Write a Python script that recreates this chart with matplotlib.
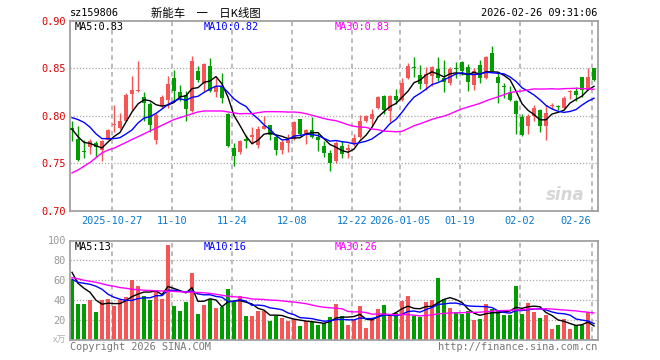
import numpy as np
import pandas as pd
import matplotlib
matplotlib.use('Agg')
import matplotlib.pyplot as plt
from matplotlib.transforms import blended_transform_factory

# daily candles (88 trading days)
opens = [0.787, 0.776, 0.763, 0.767, 0.771, 0.764, 0.775, 0.790, 0.7875, 0.795,
         0.823, 0.826, 0.820, 0.812, 0.775, 0.810, 0.817, 0.840, 0.825, 0.822,
         0.805, 0.847, 0.833, 0.8526, 0.825, 0.830, 0.8014, 0.766, 0.762, 0.775,
         0.778, 0.769, 0.786, 0.790, 0.778, 0.764, 0.7714, 0.776, 0.797, 0.781,
         0.785, 0.778, 0.768, 0.7606, 0.752, 0.768, 0.7638, 0.770, 0.778, 0.795,
         0.797, 0.808, 0.8206, 0.805, 0.8206, 0.817, 0.840, 0.8516, 0.843, 0.833,
         0.8415, 0.8495, 0.840, 0.834, 0.850, 0.8564, 0.851, 0.832, 0.8537, 0.840,
         0.866, 0.841, 0.8305, 0.824, 0.816, 0.7986, 0.789, 0.7997, 0.8056, 0.789,
         0.8098, 0.8093, 0.8084, 0.8247, 0.8258, 0.8408, 0.8275, 0.850]
highs = [0.795, 0.789, 0.775, 0.776, 0.773, 0.775, 0.786, 0.811, 0.803, 0.824,
         0.842, 0.857, 0.825, 0.814, 0.803, 0.822, 0.842, 0.848, 0.832, 0.826,
         0.863, 0.852, 0.855, 0.861, 0.840, 0.845, 0.803, 0.771, 0.775, 0.780,
         0.788, 0.789, 0.800, 0.790, 0.7805, 0.775, 0.7805, 0.794, 0.797, 0.786,
         0.7986, 0.782, 0.774, 0.764, 0.7735, 0.773, 0.7707, 0.781, 0.801, 0.801,
         0.8066, 0.8206, 0.8216, 0.8223, 0.828, 0.8397, 0.855, 0.8617, 0.853, 0.851,
         0.852, 0.8617, 0.859, 0.851, 0.8564, 0.8578, 0.854, 0.850, 0.859, 0.8624,
         0.8728, 0.845, 0.8345, 0.831, 0.817, 0.8014, 0.8014, 0.8118, 0.8066, 0.8118,
         0.8136, 0.8111, 0.8206, 0.8275, 0.830, 0.8408, 0.850, 0.850]
lows = [0.774, 0.752, 0.756, 0.760, 0.757, 0.752, 0.775, 0.783, 0.786, 0.794,
        0.806, 0.825, 0.795, 0.783, 0.770, 0.808, 0.808, 0.815, 0.815, 0.794,
        0.804, 0.8355, 0.826, 0.825, 0.8195, 0.8136, 0.767, 0.747, 0.760, 0.766,
        0.770, 0.766, 0.786, 0.775, 0.759, 0.7596, 0.762, 0.775, 0.779, 0.770,
        0.777, 0.763, 0.757, 0.7415, 0.750, 0.756, 0.7554, 0.768, 0.777, 0.7934,
        0.789, 0.8066, 0.8014, 0.7937, 0.812, 0.816, 0.839, 0.8404, 0.828, 0.8275,
        0.831, 0.836, 0.825, 0.8328, 0.8397, 0.843, 0.8265, 0.8275, 0.8345, 0.839,
        0.8467, 0.8136, 0.8188, 0.8153, 0.781, 0.7787, 0.781, 0.7944, 0.783, 0.7742,
        0.8073, 0.8056, 0.8066, 0.8171, 0.816, 0.8195, 0.827, 0.837]
closes = [0.785, 0.754, 0.762, 0.774, 0.767, 0.774, 0.785, 0.791, 0.795, 0.822,
          0.827, 0.827, 0.813, 0.790, 0.801, 0.8195, 0.833, 0.826, 0.8195, 0.807,
          0.857, 0.838, 0.854, 0.8265, 0.830, 0.819, 0.768, 0.758, 0.7735, 0.774,
          0.780, 0.786, 0.7895, 0.780, 0.764, 0.7725, 0.7742, 0.793, 0.7805, 0.785,
          0.778, 0.775, 0.761, 0.750, 0.771, 0.760, 0.7666, 0.777, 0.794, 0.800,
          0.802, 0.820, 0.8056, 0.8206, 0.8164, 0.8345, 0.852, 0.8502, 0.8334, 0.844,
          0.851, 0.840, 0.8355, 0.8495, 0.8492, 0.8467, 0.8355, 0.8474, 0.8397, 0.8613,
          0.8467, 0.834, 0.830, 0.817, 0.802, 0.780, 0.7997, 0.8077, 0.789, 0.8024,
          0.8101, 0.8088, 0.8188, 0.8265, 0.8216, 0.8275, 0.8408, 0.838]
# volume in 万
volumes = [60, 36, 36, 40, 28, 40, 41, 34, 40, 43,
           60, 54, 44, 40, 49, 41, 95, 34, 29, 38,
           67, 26, 35, 41, 32, 33, 51, 38, 44, 24,
           24, 29, 29, 19, 24, 22, 19, 21, 14, 19,
           19, 15, 17, 23, 36, 24, 15, 20, 34, 12,
           20, 31, 35, 25, 27, 39, 44, 24, 23, 38,
           40, 62, 41, 32, 28, 26, 29, 20, 21, 36,
           31, 29, 25, 25, 54, 26, 37, 28, 22, 25,
           11, 15, 21, 11, 15, 15, 28, 1.5]

# moving-average values at the start of the window (history not shown)
ma5_head = [0.786, 0.778, 0.772, 0.771]
ma10_head = [0.798, 0.796, 0.793, 0.788, 0.781, 0.776, 0.776, 0.776, 0.777]
ma30_head = [0.740, 0.743, 0.747, 0.751, 0.756, 0.761, 0.764, 0.766, 0.769, 0.772,
             0.775, 0.778, 0.781, 0.784, 0.787, 0.790, 0.793, 0.796, 0.798, 0.800,
             0.802, 0.804, 0.805, 0.805, 0.805, 0.805, 0.804, 0.803, 0.802]
vma5_head = [68, 57, 52, 48]
vma10_head = [61, 58, 57, 56, 54, 51, 46, 43, 41]
vma30_head = [62.7, 61.5, 60, 59, 58, 56.5, 55, 54, 52.7, 52,
              51, 50.5, 50, 49.8, 49.5, 49.2, 49, 48.8, 48.5, 48.2,
              48, 47.8, 47.5, 46.8, 46, 45, 44, 43.5, 43]

date_labels = ['2025-10-27', '11-10', '11-24', '12-08', '12-22',
               '2026-01-05', '01-19', '02-02', '02-26']
date_index = [7, 17, 27, 37, 47, 55, 65, 75, 87]


def moving_avg(vals, n, head):
    m = pd.Series(vals, dtype=float).rolling(n).mean().to_numpy()
    m[:len(head)] = head
    return m


RED = '#f65555'
GREEN = '#009c00'
MONO = 'DejaVu Sans Mono'
GRIDC = '#aaaaaa'

o = np.array(opens); h = np.array(highs); l = np.array(lows); c = np.array(closes)
v = np.array(volumes, dtype=float)
x = np.arange(len(c))
up = c >= o
colors = np.where(up, RED, GREEN)

fig = plt.figure(figsize=(6.6, 3.6), dpi=100)
W, H = 660.0, 360.0
fx = lambda px: px / W
fy = lambda py: 1 - py / H

ax = fig.add_axes([fx(70), fy(211), fx(597.6) - fx(70), fy(20.5) - fy(211)])
axv = fig.add_axes([fx(70), fy(340), fx(597.6) - fx(70), fy(240.5) - fy(340)])

xlim = (-1 / 3, 87.6)
for a in (ax, axv):
    a.set_xlim(*xlim)
    a.set_xticks([])
    for s in a.spines.values():
        s.set_color('#a0a0a0')
        s.set_linewidth(1.3)
    a.tick_params(axis='y', length=0, pad=3)
    for d in date_index:
        a.axvline(d - 1 / 3, color=GRIDC, lw=1.1, linestyle=(0, (3, 2.5)), zorder=0)

# price panel
ax.set_ylim(0.70, 0.90)
ax.set_yticks([0.70, 0.75, 0.80, 0.85, 0.90])
ax.set_yticklabels(['%.2f' % t for t in [0.70, 0.75, 0.80, 0.85, 0.90]],
                   family=MONO, fontsize=7.4, color='#dd0000')
for yv in [0.75, 0.80, 0.85]:
    ax.axhline(yv, color=GRIDC, lw=0.9, linestyle=(0, (1, 1.5)), zorder=0)

ax.vlines(x, l, h, colors=colors, lw=1, zorder=2)
body = np.maximum(np.abs(c - o), 0.0012)
ax.bar(x, body, bottom=np.minimum(o, c), width=0.8, color=colors, zorder=3)

ax.plot(x, moving_avg(closes, 5, ma5_head), color='black', lw=1, zorder=4)
ax.plot(x, moving_avg(closes, 10, ma10_head), color='#0000ff', lw=1, zorder=4)
ax.plot(x, moving_avg(closes, 30, ma30_head), color='#ff00ff', lw=1, zorder=4)

ax.text(0.008, 0.993, 'MA5:0.83', transform=ax.transAxes, family=MONO, fontsize=7.4,
        color='black', va='top')
ax.text(0.254, 0.993, 'MA10:0.82', transform=ax.transAxes, family=MONO, fontsize=7.4,
        color='#0000ff', va='top')
ax.text(0.502, 0.993, 'MA30:0.83', transform=ax.transAxes, family=MONO, fontsize=7.4,
        color='#ff00ff', va='top')

tr = blended_transform_factory(ax.transData, ax.transAxes)
for lab, d in zip(date_labels, date_index):
    if d == date_index[-1]:
        ax.text(d - 1 / 3 - 0.2, -0.051, lab, transform=tr, ha='right', va='center',
                family=MONO, fontsize=7.4, color='#0a78d0')
    else:
        ax.text(d - 1 / 3, -0.051, lab, transform=tr, ha='center', va='center',
                family=MONO, fontsize=7.4, color='#0a78d0')

ax.text(0.976, 0.085, 'sina', transform=ax.transAxes, ha='right', va='center',
        fontsize=12, fontweight='bold', style='italic', color='#d6d6d6', zorder=1)

# volume panel
axv.set_ylim(0, 100)
axv.set_yticks([20, 40, 60, 80, 100])
axv.set_yticklabels(['20', '40', '60', '80', '100'], family=MONO, fontsize=7.4,
                    color='#999999')
for yv in [20, 40, 60, 80]:
    axv.axhline(yv, color=GRIDC, lw=0.9, linestyle=(0, (1, 1.5)), zorder=0)
axv.bar(x, v, width=0.8, color=colors, zorder=2)
axv.plot(x, moving_avg(volumes, 5, vma5_head), color='black', lw=1, zorder=4)
axv.plot(x, moving_avg(volumes, 10, vma10_head), color='#0000ff', lw=1, zorder=4)
axv.plot(x, moving_avg(volumes, 30, vma30_head), color='#ff00ff', lw=1, zorder=4)

axv.text(0.008, 0.985, 'MA5:13', transform=axv.transAxes, family=MONO, fontsize=7.4,
         color='black', va='top')
axv.text(0.254, 0.985, 'MA10:16', transform=axv.transAxes, family=MONO, fontsize=7.4,
         color='#0000ff', va='top')
axv.text(0.502, 0.985, 'MA30:26', transform=axv.transAxes, family=MONO, fontsize=7.4,
         color='#ff00ff', va='top')

# header / footer texts
fig.text(fx(70), fy(13), 'sz159806', family=MONO, fontsize=7.4, va='center', ha='left')
fig.text(fx(206), fy(13), '新能车\u3000一\u3000日K线图',
         family=['Noto Sans CJK SC', 'DejaVu Sans'], fontsize=8.2, va='center', ha='center')
fig.text(fx(597), fy(13), '2026-02-26 09:31:06', family=MONO, fontsize=7.4,
         va='center', ha='right')
fig.text(fx(66), fy(340), 'x万', family=['Noto Sans CJK SC', 'DejaVu Sans'],
         fontsize=6.5, va='center', ha='right', color='#b0b0b0')
fig.text(fx(70), fy(347), 'Copyright 2026 SINA.COM', family=MONO, fontsize=7.4,
         va='center', ha='left', color='#777777')
fig.text(fx(597), fy(347), 'http://finance.sina.com.cn', family=MONO, fontsize=7.4,
         va='center', ha='right', color='#777777')

fig.savefig('out.png', dpi=100)
